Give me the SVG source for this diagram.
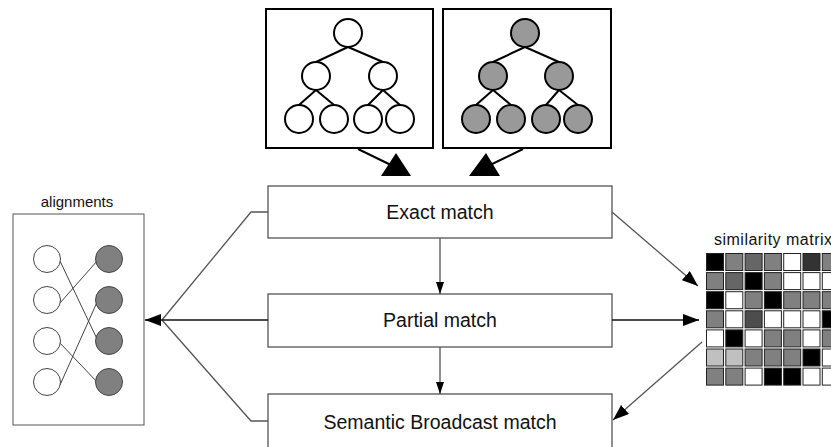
<svg xmlns="http://www.w3.org/2000/svg" width="831" height="447" viewBox="0 0 831 447">
<style>
text{font-family:"Liberation Sans",Arial,sans-serif;fill:#111}
.lbl{font-size:19.5px}
.sm{font-size:15px}
.tbox{fill:#fff;stroke:#000;stroke-width:2}
.tn{fill:#fff;stroke:#000;stroke-width:2}
.tn2{fill:#999;stroke:#000;stroke-width:2}
.te{stroke:#000;stroke-width:2;fill:none}
.mbox{fill:#fff;stroke:#555;stroke-width:1.3}
.con{stroke:#555;stroke-width:1.3;fill:none}
.conk{stroke:#111;stroke-width:1.3;fill:none}
.an{fill:#fff;stroke:#444;stroke-width:1}
.an2{fill:#808080;stroke:#444;stroke-width:1}
.al{stroke:#444;stroke-width:1;fill:none}
.cell{stroke:#222;stroke-width:1}
</style>
<defs>
<marker id="ah" viewBox="0 0 16 12" refX="16" refY="6" markerWidth="16" markerHeight="12" markerUnits="userSpaceOnUse" orient="auto">
<path d="M0,0 L16,6 L0,12 z" fill="#000"/>
</marker>
<marker id="ahs" viewBox="0 0 12 8" refX="12" refY="4" markerWidth="12" markerHeight="8" markerUnits="userSpaceOnUse" orient="auto">
<path d="M0,0 L12,4 L0,8 z" fill="#000"/>
</marker>
</defs>

<g id="tree1">
<rect class="tbox" x="266" y="9" width="167" height="139"/>
<path class="te" d="M348,47 L316,62 M348,47 L383,62 M316,90 L299,105 M316,90 L334,105 M383,90 L368,105 M383,90 L400,105"/>
<circle class="tn" cx="348" cy="33" r="14"/>
<circle class="tn" cx="316" cy="76" r="14"/>
<circle class="tn" cx="383" cy="76" r="14"/>
<circle class="tn" cx="299" cy="119" r="14"/>
<circle class="tn" cx="334" cy="119" r="14"/>
<circle class="tn" cx="368" cy="119" r="14"/>
<circle class="tn" cx="400" cy="119" r="14"/>
</g>

<g id="tree2">
<rect class="tbox" x="443" y="9" width="168" height="139"/>
<path class="te" d="M525,47 L493,62 M525,47 L559,62 M493,90 L476,105 M493,90 L511,105 M559,90 L546,105 M559,90 L578,105"/>
<circle class="tn2" cx="525" cy="33" r="14"/>
<circle class="tn2" cx="493" cy="76" r="14"/>
<circle class="tn2" cx="559" cy="76" r="14"/>
<circle class="tn2" cx="476" cy="119" r="14"/>
<circle class="tn2" cx="511" cy="119" r="14"/>
<circle class="tn2" cx="546" cy="119" r="14"/>
<circle class="tn2" cx="578" cy="119" r="14"/>
</g>

<g id="exact">
<rect class="mbox" x="268" y="186" width="344" height="52"/>
<text class="lbl" x="440" y="219" text-anchor="middle">Exact match</text>
</g>
<g id="partial">
<rect class="mbox" x="268" y="294" width="344" height="53"/>
<text class="lbl" x="440" y="327" text-anchor="middle">Partial match</text>
</g>
<g id="semantic">
<rect class="mbox" x="268" y="394" width="344" height="60"/>
<text class="lbl" x="440" y="429" text-anchor="middle">Semantic Broadcast match</text>
</g>

<g id="alignments">
<text class="sm" x="77" y="207" text-anchor="middle">alignments</text>
<rect x="13" y="214" width="131" height="211" fill="#fff" stroke="#555" stroke-width="1"/>
<path class="al" d="M60,261 L98,341 M60,303 L98,260 M60,343 L98,383 M60,385 L98,300"/>
<circle class="an" cx="47" cy="259" r="13.5"/>
<circle class="an" cx="47" cy="300" r="13.5"/>
<circle class="an" cx="47" cy="341" r="13.5"/>
<circle class="an" cx="47" cy="382" r="13.5"/>
<circle class="an2" cx="109" cy="259" r="13.5"/>
<circle class="an2" cx="109" cy="300" r="13.5"/>
<circle class="an2" cx="109" cy="341" r="13.5"/>
<circle class="an2" cx="109" cy="382" r="13.5"/>
</g>

<g id="matrix">
<text class="sm" x="714" y="245" font-size="16" textLength="118" lengthAdjust="spacing" style="font-size:16px">similarity matrix</text>
<g class="cell">
<rect x="706.5" y="253.5" width="17" height="17" fill="#000"/>
<rect x="725.8" y="253.5" width="17" height="17" fill="#808080"/>
<rect x="745.1" y="253.5" width="17" height="17" fill="#666"/>
<rect x="764.4" y="253.5" width="17" height="17" fill="#808080"/>
<rect x="783.7" y="253.5" width="17" height="17" fill="#fff"/>
<rect x="803" y="253.5" width="17" height="17" fill="#333"/>
<rect x="822.3" y="253.5" width="17" height="17" fill="#808080"/>

<rect x="706.5" y="272.6" width="17" height="17" fill="#808080"/>
<rect x="725.8" y="272.6" width="17" height="17" fill="#666"/>
<rect x="745.1" y="272.6" width="17" height="17" fill="#000"/>
<rect x="764.4" y="272.6" width="17" height="17" fill="#808080"/>
<rect x="783.7" y="272.6" width="17" height="17" fill="#fff"/>
<rect x="803" y="272.6" width="17" height="17" fill="#fff"/>
<rect x="822.3" y="272.6" width="17" height="17" fill="#fff"/>

<rect x="706.5" y="291.7" width="17" height="17" fill="#000"/>
<rect x="725.8" y="291.7" width="17" height="17" fill="#fff"/>
<rect x="745.1" y="291.7" width="17" height="17" fill="#808080"/>
<rect x="764.4" y="291.7" width="17" height="17" fill="#000"/>
<rect x="783.7" y="291.7" width="17" height="17" fill="#808080"/>
<rect x="803" y="291.7" width="17" height="17" fill="#808080"/>
<rect x="822.3" y="291.7" width="17" height="17" fill="#808080"/>

<rect x="706.5" y="310.8" width="17" height="17" fill="#808080"/>
<rect x="725.8" y="310.8" width="17" height="17" fill="#fff"/>
<rect x="745.1" y="310.8" width="17" height="17" fill="#4d4d4d"/>
<rect x="764.4" y="310.8" width="17" height="17" fill="#fff"/>
<rect x="783.7" y="310.8" width="17" height="17" fill="#fff"/>
<rect x="803" y="310.8" width="17" height="17" fill="#fff"/>
<rect x="822.3" y="310.8" width="17" height="17" fill="#000"/>

<rect x="706.5" y="329.9" width="17" height="17" fill="#fff"/>
<rect x="725.8" y="329.9" width="17" height="17" fill="#000"/>
<rect x="745.1" y="329.9" width="17" height="17" fill="#fff"/>
<rect x="764.4" y="329.9" width="17" height="17" fill="#808080"/>
<rect x="783.7" y="329.9" width="17" height="17" fill="#808080"/>
<rect x="803" y="329.9" width="17" height="17" fill="#fff"/>
<rect x="822.3" y="329.9" width="17" height="17" fill="#808080"/>

<rect x="706.5" y="349" width="17" height="17" fill="#c0c0c0"/>
<rect x="725.8" y="349" width="17" height="17" fill="#c0c0c0"/>
<rect x="745.1" y="349" width="17" height="17" fill="#808080"/>
<rect x="764.4" y="349" width="17" height="17" fill="#808080"/>
<rect x="783.7" y="349" width="17" height="17" fill="#808080"/>
<rect x="803" y="349" width="17" height="17" fill="#000"/>
<rect x="822.3" y="349" width="17" height="17" fill="#fff"/>

<rect x="706.5" y="368.1" width="17" height="17" fill="#808080"/>
<rect x="725.8" y="368.1" width="17" height="17" fill="#808080"/>
<rect x="745.1" y="368.1" width="17" height="17" fill="#fff"/>
<rect x="764.4" y="368.1" width="17" height="17" fill="#000"/>
<rect x="783.7" y="368.1" width="17" height="17" fill="#000"/>
<rect x="803" y="368.1" width="17" height="17" fill="#fff"/>
<rect x="822.3" y="368.1" width="17" height="17" fill="#fff"/>
</g>
</g>

<g id="connectors">
<line class="te" x1="358" y1="149" x2="393" y2="166"/>
<polygon points="396,153 381,176 411,176" fill="#000"/>
<line class="te" x1="523" y1="149" x2="488" y2="166"/>
<polygon points="486,153 469,176 500,176" fill="#000"/>

<line class="con" x1="440" y1="238" x2="440" y2="294" marker-end="url(#ahs)"/>
<line class="con" x1="440" y1="347" x2="440" y2="394" marker-end="url(#ahs)"/>

<polyline class="con" points="268,212 251,212 162,320"/>
<polyline class="con" points="268,421 251,421 162,320"/>
<line class="conk" x1="268" y1="320" x2="145" y2="320" marker-end="url(#ah)"/>

<line class="con" x1="612" y1="212" x2="698" y2="286" marker-end="url(#ah)"/>
<line class="conk" x1="612" y1="320" x2="699" y2="320" marker-end="url(#ah)"/>
<line class="con" x1="702" y1="342" x2="613" y2="420" marker-end="url(#ah)"/>
</g>
</svg>
